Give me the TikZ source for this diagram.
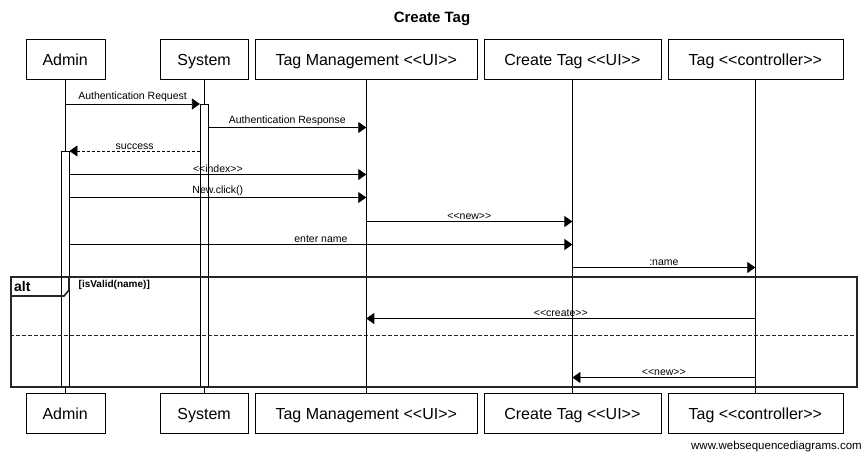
\documentclass[tikz,border=0pt]{standalone}
\usepackage{fontspec}
\setmainfont{Liberation Sans}[Ligatures=TeXOff]
\usetikzlibrary{arrows.meta, positioning}

\begin{document}
\begin{tikzpicture}[
        x=1pt, y=-1pt,
        actor/.style={rectangle, draw, fill=white, inner sep=0pt, minimum height=40pt, text height=14pt, text depth=2.6pt, font=\fontsize{16}{18}\selectfont},
        lifeline/.style={draw, line width=0.8pt},
        actbox/.style={rectangle, draw, fill=white, inner sep=0pt, minimum width=8pt, anchor=north},
        msg/.style={-{Triangle[length=8pt,width=11pt]}, line width=0.8pt},
        reply/.style={msg, dash pattern=on 3pt off 2pt},
        lbl/.style={above, inner sep=1.5pt, font=\fontsize{10.5}{12}\selectfont},
        frame/.style={draw=black!85, line width=1.6pt}
    ]
    \useasboundingbox (0,0) rectangle (864,456);

    % Title
    \node [font=\bfseries\fontsize{15}{18}\selectfont] (title) at (432,19) {Create Tag};

    % Participants (top)
    \node [actor, minimum width=79pt] (admin) at (65.2,59.5) {Admin};
    \node [actor, minimum width=88pt, right=55pt of admin] (system) {System};
    \node [actor, minimum width=222.5pt, right=6.5pt of system] (tagmgmt) {Tag Management <<UI>>};
    \node [actor, minimum width=177pt, right=6pt of tagmgmt] (createtag) {Create Tag <<UI>>};
    \node [actor, minimum width=175pt, right=6.5pt of createtag] (tagctrl) {Tag <<controller>>};

    % Participants (bottom)
    \node [actor, minimum width=79pt, below=313.5pt of admin] (admin2) {Admin};
    \node [actor, minimum width=88pt, below=313.5pt of system] (system2) {System};
    \node [actor, minimum width=222.5pt, below=313.5pt of tagmgmt] (tagmgmt2) {Tag Management <<UI>>};
    \node [actor, minimum width=177pt, below=313.5pt of createtag] (createtag2) {Create Tag <<UI>>};
    \node [actor, minimum width=175pt, below=313.5pt of tagctrl] (tagctrl2) {Tag <<controller>>};

    % Lifelines
    \draw [lifeline] (admin.south) -- (admin2.north);
    \draw [lifeline] (system.south) -- (system2.north);
    \draw [lifeline] (tagmgmt.south) -- (tagmgmt2.north);
    \draw [lifeline] (createtag.south) -- (createtag2.north);
    \draw [lifeline] (tagctrl.south) -- (tagctrl2.north);

    % Activations
    \node [actbox, minimum height=282pt] (sysact) at (system.south |- 0,104) {};
    \node [actbox, minimum height=235pt] (adminact) at (admin.south |- 0,151) {};

    % alt frame
    \node [frame, rectangle, inner sep=0pt, minimum width=846pt, minimum height=110pt, anchor=north west] (alt) at (10,276) {};
    \draw [frame] (alt.north west) ++(0,20) -- ++(54,0) -- ++(5,-6) -- ++(0,-14);
    \node [anchor=west, inner sep=0pt, font=\bfseries\fontsize{14}{16}\selectfont] (alttxt) at (14,286) {alt};
    \node [anchor=west, inner sep=0pt, font=\bfseries\fontsize{10}{12}\selectfont] (guard) at (78.5,284.5) {[isValid(name)]};
    \draw [frame, dash pattern=on 4pt off 2pt] (alt.west |- 0,335.5) -- (alt.east |- 0,335.5);

    % Messages
    \draw [msg] (admin.south |- 0,104) -- node[lbl] {Authentication Request} (sysact.west |- 0,104);
    \draw [msg] (sysact.east |- 0,127.5) -- node[lbl] {Authentication Response} (tagmgmt.south |- 0,127.5);
    \draw [reply] (sysact.west |- 0,151) -- node[lbl] {success} (adminact.east |- 0,151);
    \draw [msg] (adminact.east |- 0,174.5) -- node[lbl] {<<index>>} (tagmgmt.south |- 0,174.5);
    \draw [msg] (adminact.east |- 0,197.5) -- node[lbl] {New.click()} (tagmgmt.south |- 0,197.5);
    \draw [msg] (tagmgmt.south |- 0,221.5) -- node[lbl] {<<new>>} (createtag.south |- 0,221.5);
    \draw [msg] (adminact.east |- 0,244.5) -- node[lbl] {enter name} (createtag.south |- 0,244.5);
    \draw [msg] (createtag.south |- 0,267.5) -- node[lbl] {:name} (tagctrl.south |- 0,267.5);
    \draw [msg] (tagctrl.south |- 0,318.5) -- node[lbl] {<<create>>} (tagmgmt.south |- 0,318.5);
    \draw [msg] (tagctrl.south |- 0,377.5) -- node[lbl] {<<new>>} (createtag.south |- 0,377.5);

    % Footer
    \node [anchor=east, inner sep=0pt, font=\fontsize{11.5}{13}\selectfont] (footer) at (862,447) {www.websequencediagrams.com};

\end{tikzpicture}
\end{document}
